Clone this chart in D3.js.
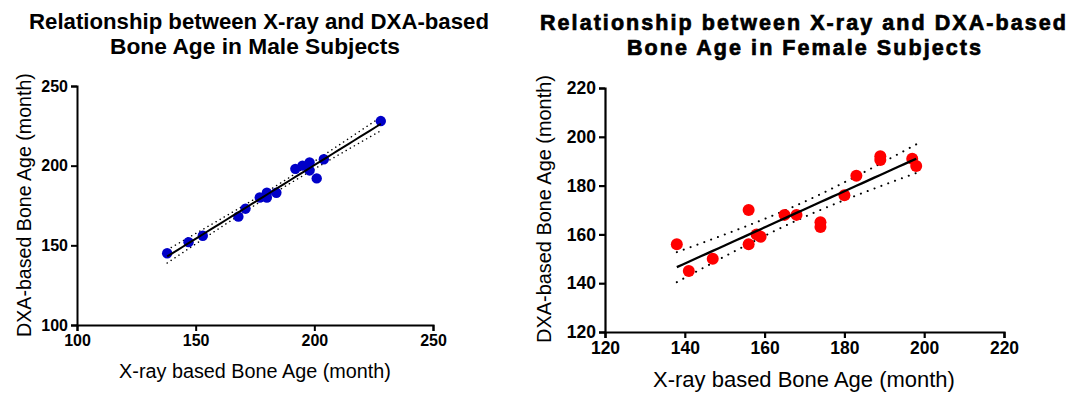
<!DOCTYPE html>
<html lang="en">
<head>
<meta charset="UTF-8" />
<title>Bone Age</title>
<script src="https://cdnjs.cloudflare.com/ajax/libs/d3/7.8.5/d3.min.js"></script>
<style>
  body { margin: 0; background: #fff; }
  text { font-family: "Liberation Sans", Arial, sans-serif; fill: #000; }
</style>
</head>
<body>
<div id="chart"></div>
<script>
// male subjects
var maleX = [138, 147, 153, 168, 171, 177, 180, 180, 184, 192, 195, 198, 198, 201, 204, 228];
var maleY = [145, 152, 156, 168, 173, 180, 183, 180, 183, 198, 200, 202, 197, 192, 204, 228];
var maleTicks = [100, 150, 200, 250];

// female subjects
var femaleX = [138, 141, 147, 156, 156, 158, 159, 165, 168, 174, 174, 180, 183, 189, 189, 197, 198];
var femaleY = [156, 145, 150, 170, 156, 160, 159, 168, 168, 165, 163, 176, 184, 192, 190.5, 191, 188];
var femaleTicks = [120, 140, 160, 180, 200, 220];

var xTitle = 'X-ray based Bone Age (month)';
var yTitle = 'DXA-based Bone Age (month)';

var svg = d3.select('#chart').append('svg')
  .attr('width', 1077)
  .attr('height', 398);

// shrink / grow a text element so it spans the given width
function fitText(sel, width) {
  var w = sel.node().getComputedTextLength();
  var fs = parseFloat(sel.attr('font-size'));
  sel.attr('font-size', fs * width / w);
}
// keep the size, spread the letters instead
function spreadText(sel, width) {
  var w = sel.node().getComputedTextLength();
  var n = sel.text().length;
  sel.attr('letter-spacing', (width - w) / n);
}

// least squares line + 95% confidence band
function fit(xs, ys, t) {
  var n = xs.length;
  var mx = d3.mean(xs), my = d3.mean(ys);
  var sxx = d3.sum(xs, function (x) { return (x - mx) * (x - mx); });
  var sxy = d3.sum(xs, function (x, i) { return (x - mx) * (ys[i] - my); });
  var b = sxy / sxx, a = my - b * mx;
  var sse = d3.sum(xs, function (x, i) { var r = ys[i] - (a + b * x); return r * r; });
  var s = Math.sqrt(sse / (n - 2));
  var lo = d3.min(xs), hi = d3.max(xs);
  return d3.range(0, 41).map(function (k) {
    var x = lo + (hi - lo) * k / 40;
    var y = a + b * x;
    var h = t * s * Math.sqrt(1 / n + (x - mx) * (x - mx) / sxx);
    return { x: x, y: y, up: y + h, dn: y - h };
  });
}

function panel(o) {
  var g = svg.append('g');
  var x = d3.scaleLinear().domain(o.domain).range([o.left, o.right]);
  var y = d3.scaleLinear().domain(o.domain).range([o.bottom, o.top]);

  var xa = g.append('g')
    .attr('transform', 'translate(0,' + o.bottom + ')')
    .call(d3.axisBottom(x).tickValues(o.ticks).tickSize(6).tickPadding(4).tickFormat(d3.format('d')));
  var ya = g.append('g')
    .attr('transform', 'translate(' + o.left + ',0)')
    .call(d3.axisLeft(y).tickValues(o.ticks).tickSize(6).tickPadding(3).tickFormat(d3.format('d')));
  [xa, ya].forEach(function (a) {
    a.select('.domain').attr('stroke', '#000').attr('stroke-width', o.axisW);
    a.selectAll('.tick line').attr('stroke', '#000').attr('stroke-width', o.axisW);
    a.selectAll('.tick text')
      .attr('font-size', o.tickFs)
      .attr('font-weight', 'bold')
      .attr('font-family', '"Liberation Sans", Arial, sans-serif')
      .attr('fill', '#000');
  });

  var band = fit(o.xs, o.ys, o.t);
  var line = function (key) {
    return d3.line().x(function (d) { return x(d.x); }).y(function (d) { return y(d[key]); });
  };
  ['up', 'dn'].forEach(function (k) {
    g.append('path')
      .attr('d', line(k)(band))
      .attr('fill', 'none')
      .attr('stroke', '#000')
      .attr('stroke-width', o.dotW)
      .attr('stroke-linecap', 'round')
      .attr('stroke-dasharray', o.dash);
  });

  g.selectAll('circle')
    .data(o.xs)
    .enter()
    .append('circle')
    .attr('cx', function (d) { return x(d); })
    .attr('cy', function (d, i) { return y(o.ys[i]); })
    .attr('r', o.r)
    .attr('fill', o.color);

  g.append('path')
    .attr('d', line('y')(band))
    .attr('fill', 'none')
    .attr('stroke', '#000')
    .attr('stroke-width', o.lineW);

  // axis titles
  var xt = g.append('text')
    .attr('x', o.xTitle[0]).attr('y', o.xTitle[1])
    .attr('text-anchor', 'middle')
    .attr('font-size', 17)
    .text(xTitle);
  fitText(xt, o.xTitle[2]);
  var yt = g.append('text')
    .attr('transform', 'translate(' + o.yTitle[0] + ',' + o.yTitle[1] + ') rotate(-90)')
    .attr('text-anchor', 'middle')
    .attr('font-size', 17)
    .text(yTitle);
  fitText(yt, o.yTitle[2]);

  // title
  o.title.forEach(function (t) {
    var tt = g.append('text')
      .attr('x', t.x).attr('y', t.y)
      .attr('text-anchor', 'middle')
      .attr('font-weight', 'bold')
      .attr('font-size', o.titleFs)
      .attr('stroke', '#000')
      .attr('stroke-width', o.titleStroke)
      .text(t.text);
    if (o.spread) spreadText(tt, t.w); else fitText(tt, t.w);
  });
}

panel({
  xs: maleX, ys: maleY, t: 2.145, ticks: maleTicks, domain: [100, 250],
  left: 77, right: 433, top: 86, bottom: 325,
  color: '#0000c8', r: 5.2, lineW: 2, dotW: 1.5, dash: '0.1,4.6', axisW: 2, tickFs: 16,
  xTitle: [255, 378, 272], yTitle: [31, 205, 264], titleFs: 20, titleStroke: 0, spread: false,
  title: [
    { text: 'Relationship between X-ray and DXA-based', x: 259, y: 29, w: 460 },
    { text: 'Bone Age in Male Subjects', x: 255, y: 54, w: 290 }
  ]
});

panel({
  xs: femaleX, ys: femaleY, t: 2.131, ticks: femaleTicks, domain: [120, 220],
  left: 605, right: 1004, top: 88, bottom: 332,
  color: '#ff0000', r: 6, lineW: 2.3, dotW: 2, dash: '0.1,7.2', axisW: 2.2, tickFs: 17.5,
  xTitle: [804, 387, 302], yTitle: [551, 209, 268], titleFs: 21.5, titleStroke: 0.7, spread: true,
  title: [
    { text: 'Relationship between X-ray and DXA-based', x: 804, y: 30, w: 528 },
    { text: 'Bone Age in Female Subjects', x: 805, y: 55, w: 356 }
  ]
});
</script>
</body>
</html>
